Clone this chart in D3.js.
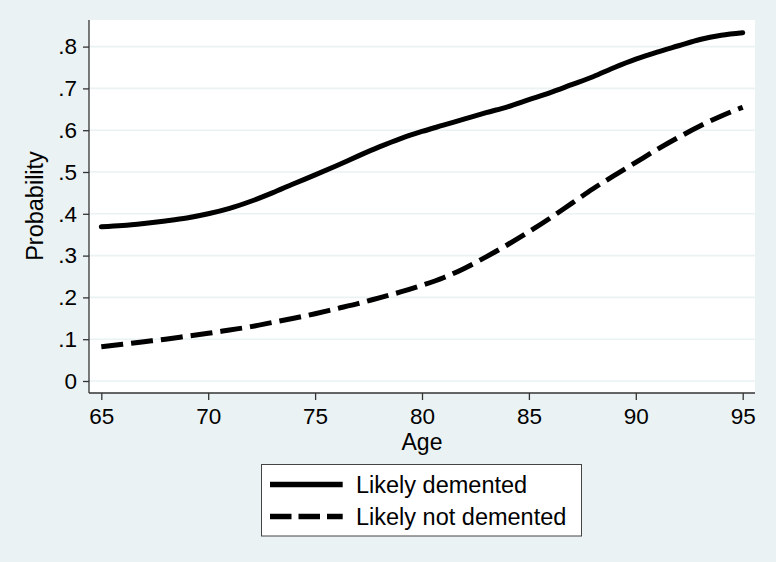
<!DOCTYPE html>
<html><head><meta charset="utf-8">
<script src="https://cdn.jsdelivr.net/npm/d3@7"></script>
<style>html,body{margin:0;padding:0;background:#EAF2F3;}svg{display:block;}</style>
</head><body>
<svg id="c" width="776" height="562"></svg>
<script>
const ages = [65,66,67,68,69,70,71,72,73,74,75,76,77,78,79,80,81,82,83,84,85,86,87,88,89,90,91,92,93,94,95];
const likelyDemented = [.369,.372,.377,.383,.390,.400,.413,.430,.450,.472,.493,.515,.538,.560,.580,.597,.612,.627,.642,.656,.673,.690,.709,.728,.750,.770,.787,.802,.817,.827,.833];
const likelyNotDemented = [.082,.088,.094,.100,.107,.114,.122,.130,.140,.150,.161,.173,.185,.199,.213,.229,.247,.270,.297,.326,.357,.390,.425,.460,.492,.523,.554,.583,.610,.634,.655];
const xTicks = [65,70,75,80,85,90,95];
const yTicks = [0,.1,.2,.3,.4,.5,.6,.7,.8];
const yTickLabels = ["0",".1",".2",".3",".4",".5",".6",".7",".8"];
const seriesNames = ["Likely demented","Likely not demented"];

const svg = d3.select("#c");
const font = "'Liberation Sans', Arial, sans-serif";
const L = 89, R = 755, T = 20, B = 393;
svg.append("rect").attr("width",776).attr("height",562).attr("fill","#EAF2F3");
svg.append("rect").attr("x",L).attr("y",T).attr("width",R-L).attr("height",B-T).attr("fill","#fff");

const x = d3.scaleLinear().domain([65,95]).range([101.3,742.7]);
const y = d3.scaleLinear().domain([0,.8]).range([381,46.6]);

// gridlines
svg.append("g").selectAll("line").data(yTicks).join("line")
  .attr("x1",L).attr("x2",R).attr("y1",d=>y(d)).attr("y2",d=>y(d))
  .attr("stroke","#EAF2F3").attr("stroke-width",1.6);

// axes
const yAxis = d3.axisLeft(y).tickValues(yTicks).tickFormat((d,i)=>yTickLabels[i]).tickSize(6).tickPadding(6);
const gy = svg.append("g").attr("transform",`translate(${L},0)`).call(yAxis);
gy.select(".domain").remove();
gy.append("line").attr("x1",0).attr("x2",0).attr("y1",T).attr("y2",B).attr("stroke","#333").attr("stroke-width",1.3);
const xAxis = d3.axisBottom(x).tickValues(xTicks).tickFormat(d3.format("d")).tickSize(7).tickPadding(8);
const gx = svg.append("g").attr("transform",`translate(0,${B})`).call(xAxis);
gx.select(".domain").remove();
gx.append("line").attr("x1",L).attr("x2",R).attr("y1",0).attr("y2",0).attr("stroke","#333").attr("stroke-width",1.3);
[gx,gy].forEach(g=>{
  g.selectAll(".tick line").attr("stroke","#333").attr("stroke-width",1.3);
  g.selectAll(".tick text").attr("fill","#000").style("font-family",font).style("font-size","22.5px");
});

// axis titles
svg.append("text").attr("x",(L+R)/2).attr("y",450).attr("text-anchor","middle")
  .style("font-family",font).style("font-size","23px").text("Age");
svg.append("text").attr("transform",`translate(43,${(T+B)/2 - 0.5}) rotate(-90)`).attr("text-anchor","middle")
  .style("font-family",font).style("font-size","23.5px").text("Probability");

// lines
const line = d3.line().x((d,i)=>x(ages[i])).y(d=>y(d)).curve(d3.curveMonotoneX);
svg.append("path").attr("d",line(likelyDemented)).attr("fill","none").attr("stroke","#000")
  .attr("stroke-width",5).attr("stroke-linecap","round");
svg.append("path").attr("d",line(likelyNotDemented)).attr("fill","none").attr("stroke","#000")
  .attr("stroke-width",5).attr("stroke-dasharray","22,8");

// legend
const lg = svg.append("g");
lg.append("rect").attr("x",261.5).attr("y",464.5).attr("width",320).attr("height",71.5)
  .attr("fill","#fff").attr("stroke","#444").attr("stroke-width",1);
const rows = [484.5,516.5];
seriesNames.forEach((n,i)=>{
  lg.append("line").attr("x1",270).attr("x2",342.7).attr("y1",rows[i]).attr("y2",rows[i])
    .attr("stroke","#000").attr("stroke-width",5.5).attr("stroke-dasharray",i?"21.5,7":null);
  lg.append("text").attr("x",356).attr("y",rows[i]).attr("dy","0.35em")
    .style("font-family",font).style("font-size","23.5px").text(n);
});
</script>
</body></html>
